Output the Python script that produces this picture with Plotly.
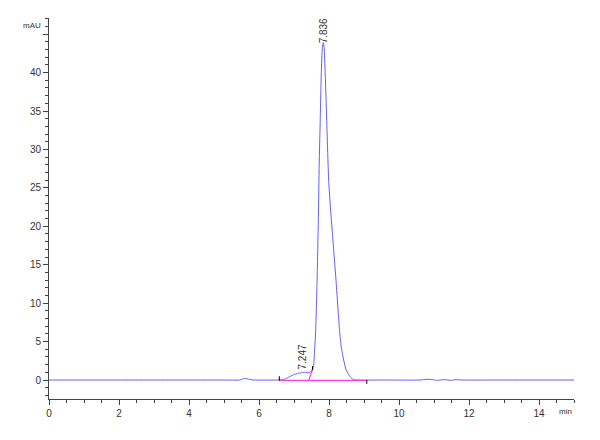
import plotly.graph_objects as go

# Chromatogram signal (time in min, signal in mAU)
time_min = [0.0, 2.0, 4.0, 5.0, 5.45, 5.55, 5.62, 5.7, 5.85, 6.5, 6.7, 6.8, 6.9, 7.0, 7.1,
            7.2, 7.3, 7.4, 7.46, 7.5, 7.54, 7.56, 7.59, 7.62, 7.66, 7.70, 7.72, 7.75,
            7.78, 7.81, 7.836, 7.86, 7.89, 7.92, 7.95, 7.99, 8.04, 8.09, 8.20, 8.30,
            8.35, 8.42, 8.49, 8.61, 8.7, 8.8, 9.5, 10.6, 10.8, 10.95, 11.1, 11.3, 11.5,
            11.6, 11.8, 13.0, 15.0]
signal_mau = [0.0, 0.0, 0.0, 0.0, 0.0, 0.15, 0.2, 0.1, 0.0, 0.0, 0.05, 0.25, 0.5, 0.7, 0.85,
              0.95, 1.0, 0.95, 1.0, 1.2, 1.5, 1.8, 4.0, 6.5, 13.0, 22.0, 28.0, 34.0,
              40.0, 43.3, 43.9, 43.3, 40.0, 36.0, 31.5, 26.0, 22.5, 19.5, 13.0, 6.5,
              4.3, 2.6, 1.3, 0.4, 0.05, 0.0, 0.0, 0.0, 0.1, 0.05, -0.05, 0.05, -0.05,
              0.05, 0.0, 0.0, 0.0]

# Integration baseline and split
baseline_t = [6.58, 9.08]
baseline_v = [-0.05, -0.05]
skim_t = [7.42, 7.54]
skim_v = [-0.05, 1.5]
event_t = [6.58, 7.53, 9.08]
event_lo = [-0.1, 1.3, -0.5]
event_hi = [0.5, 1.8, 0.0]

# Peak labels
peak_rt = [7.247, 7.836]
peak_h = [1.0, 43.9]
peak_text = ["7.247", "7.836"]
peak_label_shift = [1, -3]

x_ticks = [0, 2, 4, 6, 8, 10, 12, 14]
y_ticks = [0, 5, 10, 15, 20, 25, 30, 35, 40, 45]
y_ticktext = ["0", "5", "10", "15", "20", "25", "30", "35", "40", ""]

fig = go.Figure()
fig.add_trace(go.Scatter(x=time_min, y=signal_mau, mode="lines",
                         line=dict(color="rgb(95,95,255)", width=1, shape="spline", smoothing=0.5),
                         hoverinfo="skip"))
fig.add_trace(go.Scatter(x=baseline_t, y=baseline_v, mode="lines",
                         line=dict(color="rgb(255,60,230)", width=1.2)))
fig.add_trace(go.Scatter(x=skim_t, y=skim_v, mode="lines",
                         line=dict(color="rgb(255,60,230)", width=1.2)))
ex, ey = [], []
for t, lo, hi in zip(event_t, event_lo, event_hi):
    ex += [t, t, None]
    ey += [lo, hi, None]
fig.add_trace(go.Scatter(x=ex, y=ey, mode="lines", line=dict(color="black", width=1)))

for rt, h, txt, sh in zip(peak_rt, peak_h, peak_text, peak_label_shift):
    fig.add_annotation(x=rt, y=h, text=txt, textangle=-90, showarrow=False,
                       xanchor="center", yanchor="bottom", yshift=sh,
                       font=dict(family="Liberation Sans, Arial", size=10, color="#333"))

fig.add_annotation(xref="paper", yref="paper", x=0, y=1.0, xanchor="right", yanchor="top",
                   xshift=-6, yshift=-1, text="mAU", showarrow=False,
                   font=dict(family="Liberation Sans, Arial", size=8, color="#333"))
fig.add_annotation(xref="paper", yref="paper", x=1.0, y=0, xanchor="right", yanchor="top",
                   xshift=0, yshift=-6, text="min", showarrow=False,
                   font=dict(family="Liberation Sans, Arial", size=8, color="#333"))

axis_font = dict(family="Liberation Sans, Arial", size=10, color="#333")
fig.update_layout(
    width=592, height=432,
    margin=dict(l=41, r=26, t=10, b=41),
    paper_bgcolor="white", plot_bgcolor="white",
    showlegend=False,
    xaxis=dict(range=[0, 15], tickvals=x_ticks, ticks="outside", ticklen=5,
               tickcolor="#444", showline=True, linecolor="#444", linewidth=1,
               showgrid=False, zeroline=False, tickfont=axis_font,
               minor=dict(dtick=0.5, ticks="outside", ticklen=3, tickcolor="#444", showgrid=False)),
    yaxis=dict(range=[-2.47, 47.1], tickvals=y_ticks, ticktext=y_ticktext, ticks="outside",
               ticklen=5, tickcolor="#444", showline=True, linecolor="#444", linewidth=1,
               showgrid=False, zeroline=False, tickfont=axis_font,
               minor=dict(dtick=1, ticks="outside", ticklen=3, tickcolor="#444", showgrid=False)),
)
fig.write_html("out.html")
